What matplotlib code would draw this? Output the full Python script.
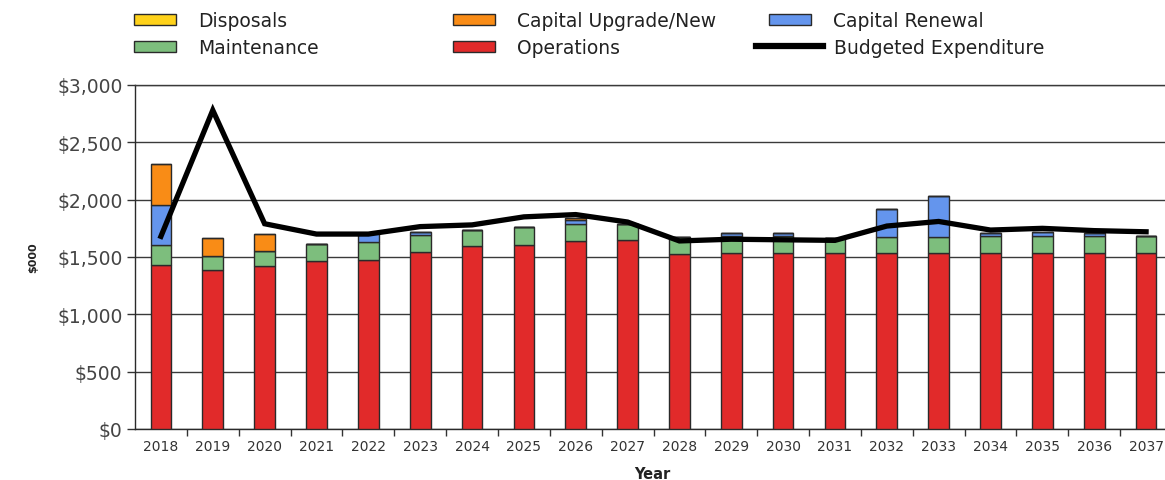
import numpy as np
import matplotlib
matplotlib.use("Agg")
import matplotlib.pyplot as plt
from matplotlib.patches import Patch
from matplotlib.lines import Line2D
from matplotlib.ticker import FuncFormatter, FixedLocator

plt.rcParams["font.family"] = ["DejaVu Sans"]

years = [str(y) for y in range(2018, 2038)]

operations = [1433, 1389, 1419, 1468, 1477, 1545, 1593, 1605, 1637, 1648,
              1528, 1532, 1532, 1532, 1532, 1532, 1532, 1532, 1532, 1532]
maintenance = [172, 123, 131, 145, 151, 147, 145, 153, 151, 142,
               143, 148, 148, 138, 145, 145, 148, 148, 148, 154]
capital_renewal = [348, 0, 0, 0, 81, 28, 0, 0, 35, 0,
                   0, 26, 26, 0, 243, 358, 30, 42, 30, 0]
capital_upgrade = [358, 154, 150, 0, 0, 0, 0, 0, 20, 0,
                   0, 0, 0, 0, 0, 0, 0, 0, 0, 0]
disposals = [0] * 20
budgeted = [1680, 2780, 1790, 1700, 1700, 1765, 1780, 1850, 1870, 1805,
            1640, 1655, 1650, 1645, 1770, 1810, 1735, 1750, 1730, 1720]

c_ops = "#E12A2A"
c_maint = "#7DBE7D"
c_renew = "#6495ED"
c_upg = "#F98C16"
c_disp = "#FFD21A"
edge = "#2a2a2a"

W, H = 1165, 481
fig = plt.figure(figsize=(W / 100, H / 100), dpi=100)
ax = fig.add_axes([135 / W, (H - 430) / H, (1172 - 135) / W, (430 - 86) / H])

x = np.arange(len(years))
bw = 0.4
bottom = np.zeros(len(years))
for vals, col in [(operations, c_ops),
                  (maintenance, c_maint),
                  (capital_renewal, c_renew),
                  (capital_upgrade, c_upg),
                  (disposals, c_disp)]:
    v = np.array(vals, dtype=float)
    ax.bar(x, v, bw, bottom=bottom, color=col, edgecolor=edge,
           linewidth=1.0, zorder=3)
    bottom += v

ax.plot(x, budgeted, color="black", linewidth=3.8, zorder=4,
        solid_joinstyle="miter")

ax.set_xlim(-0.5, len(years) - 0.5)
ax.set_ylim(0, 3000)
ax.set_yticks(np.arange(0, 3001, 500))
ax.yaxis.set_major_formatter(FuncFormatter(lambda v, p: f"${int(v):,}"))
ax.grid(axis="y", color="#3a3a3a", linewidth=1.0, zorder=0)

# category boundaries carry the tick marks, year labels sit between them
ax.xaxis.set_major_locator(FixedLocator(x[:-1] + 0.5))
ax.xaxis.set_major_formatter(FuncFormatter(lambda v, p: ""))
ax.xaxis.set_minor_locator(FixedLocator(x))
ax.set_xticklabels(years, minor=True)
ax.tick_params(axis="x", which="minor", length=0, pad=7,
               labelsize=10, labelcolor="#333333")
ax.tick_params(axis="x", which="major", length=5, width=1, color="#333333")
ax.tick_params(axis="y", length=6, width=1, color="#333333", pad=3,
               labelsize=13.5, labelcolor="#444444")

ax.spines["right"].set_visible(False)
for s in ["left", "bottom", "top"]:
    ax.spines[s].set_color("#2a2a2a")
    ax.spines[s].set_linewidth(1.0)
ax.spines["top"].set_color("#3a3a3a")

fig.text(652 / W, 1 - 475 / H, "Year", ha="center", va="center",
         fontsize=10.5, fontweight="bold", color="#222222")
fig.text(33 / W, 1 - 258 / H, "$000", ha="center", va="center",
         rotation=90, fontsize=8, fontweight="bold", color="#222222")

# legend: patch entries in columns, the line entry has a longer handle
legend_style = dict(loc="upper left", frameon=False, borderpad=0,
                    borderaxespad=0, fontsize=13.5, labelspacing=0.42)


def add_legend(handles, labels, xl, yt, **kw):
    opts = dict(legend_style)
    opts.update(kw)
    leg = fig.legend(handles, labels, bbox_to_anchor=(xl / W, 1 - yt / H),
                     **opts)
    for t in leg.get_texts():
        t.set_color("#222222")
    return leg


patch_kw = dict(handlelength=2.25, handleheight=0.5, handletextpad=1.15)
add_legend([Patch(facecolor=c_disp, edgecolor=edge, linewidth=1),
            Patch(facecolor=c_maint, edgecolor=edge, linewidth=1)],
           ["Disposals", "Maintenance"], 134, 12, **patch_kw)
add_legend([Patch(facecolor=c_upg, edgecolor=edge, linewidth=1),
            Patch(facecolor=c_ops, edgecolor=edge, linewidth=1)],
           ["Capital Upgrade/New", "Operations"], 453, 12, **patch_kw)
add_legend([Patch(facecolor=c_renew, edgecolor=edge, linewidth=1)],
           ["Capital Renewal"], 769, 12, **patch_kw)
add_legend([Line2D([], [], color="black", linewidth=4.5)],
           ["Budgeted Expenditure"], 756, 39,
           handlelength=3.6, handletextpad=0.55)

fig.savefig("out.png", dpi=100, facecolor="white")
